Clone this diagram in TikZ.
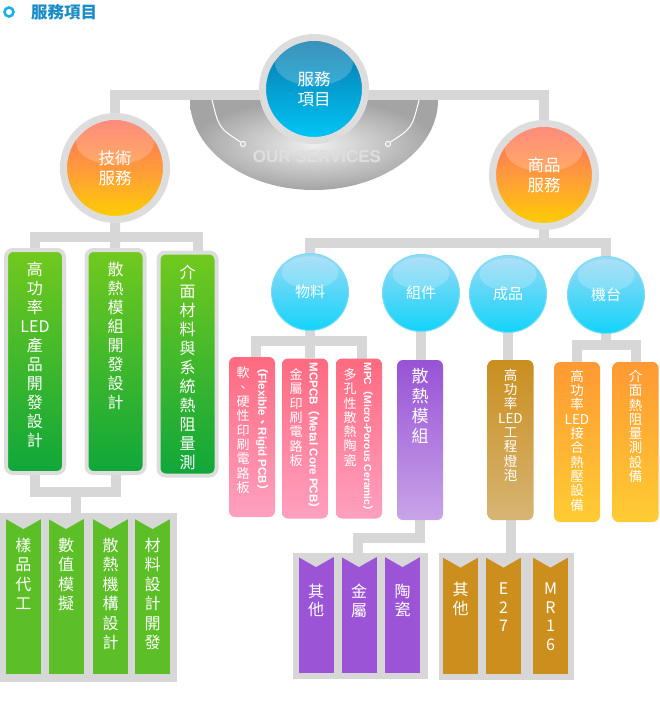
\documentclass[tikz,border=0pt]{standalone}
\usepackage{fontspec}
\setmainfont{Liberation Sans}
\newfontfamily\cjk{Noto Sans CJK TC}
\usetikzlibrary{positioning,backgrounds}

\definecolor{lnk}{HTML}{D7D7D7}
\definecolor{ringgray}{HTML}{DDDDDD}
\definecolor{titleblue}{HTML}{1A8CC8}
\definecolor{iconblue}{HTML}{1AB0E6}
\definecolor{roottop}{HTML}{0A74A8}
\definecolor{rootbot}{HTML}{00C8F8}
\definecolor{hottop}{HTML}{FF6B5E}
\definecolor{hotmid}{HTML}{FF9A3C}
\definecolor{hotbot}{HTML}{FFD000}
\definecolor{balltop}{HTML}{9AD9F5}
\definecolor{ballbot}{HTML}{12D4FA}
\definecolor{balledge}{HTML}{7CDCF8}
\definecolor{greentop}{HTML}{72C91E}
\definecolor{greenbot}{HTML}{0FA73A}
\definecolor{greenleaf}{HTML}{5CBF27}
\definecolor{pinktop}{HTML}{FF6A80}
\definecolor{pinkbot}{HTML}{FFA0C0}
\definecolor{purptop}{HTML}{9852D6}
\definecolor{purpbot}{HTML}{C8A4E8}
\definecolor{purpleaf}{HTML}{9B54D6}
\definecolor{goldtop}{HTML}{CA8E1E}
\definecolor{goldbot}{HTML}{D6B574}
\definecolor{goldleaf}{HTML}{CC8F1D}
\definecolor{ambertop}{HTML}{FF9933}
\definecolor{amberbot}{HTML}{FFCC33}
\definecolor{bowlin}{HTML}{EEEEEE}
\definecolor{bowlmid}{HTML}{C8C8C8}
\definecolor{bowlout}{HTML}{A4A4A4}
\definecolor{svcgray}{HTML}{DEDEDE}

\begin{document}
\begin{tikzpicture}[
        x=1pt, y=-1pt, % 1 ед. = 1 пиксель, ось y вниз
        conn/.style={draw=lnk, line width=10pt}, % серые полосы-соединители
        shine/.style={path picture={\fill[white, opacity=.2] ([yshift=-#1pt]path picture bounding box.north) ellipse ({1.5*#1} and {0.85*#1});}},
        ring/.style={circle, minimum size=103pt, inner sep=0pt, draw=ringgray, line width=7pt, text=white, align=center, font=\cjk\fontsize{16.5}{19.5}\selectfont, shine=26},
        ball/.style={circle, minimum size=77pt, inner sep=0pt, draw=balledge, line width=1pt, top color=balltop, bottom color=ballbot, text=white, font=\cjk\fontsize{15}{18}\selectfont, shine=19},
        box/.style={rectangle, rounded corners=6pt, inner sep=0pt, minimum width=46pt, minimum height=160pt},
        tbox/.style={box, rounded corners=7pt, draw=ringgray, line width=4pt, minimum width=58pt, minimum height=223pt, top color=greentop, bottom color=greenbot},
        banner/.style={rectangle, inner sep=0pt, minimum width=35pt, fill=#1, path picture={\fill[lnk] (path picture bounding box.north west) -- ([yshift=-10pt]path picture bounding box.north) -- (path picture bounding box.north east) -- cycle;}},
        grp/.style={rectangle, inner sep=0pt, fill=lnk}, % серые подложки групп
        vtxt/.style={align=center, inner sep=0pt, text=white, font=\cjk\fontsize{16}{19}\selectfont},
        rtxt/.style={anchor=west, rotate=-90, inner sep=0pt, text=white, font=\bfseries\fontsize{11.5}{12}\selectfont},
    ]
    \useasboundingbox (0,0) rectangle (660,724);

    % заголовок
    \node[circle, draw=iconblue, line width=2.6pt, minimum size=9pt, inner sep=0pt] (icon) at (9,12) {};
    \node[anchor=west, inner sep=0pt, text=titleblue, font=\cjk\bfseries\fontsize{16.5}{17}\selectfont] (title) at (31,12) {服務項目};

    % чаша OUR SERVICES
    \shade[inner color=bowlin, outer color=bowlout] (190,100) arc[start angle=180, end angle=0, x radius=124, y radius=90] -- cycle;
    \draw[white, line width=1pt] (212,100) .. controls (219,128) .. (240.5,142);
    \draw[white, line width=1pt] (419,100) .. controls (412,128) .. (390.5,142);
    \draw[white, fill=bowlmid, line width=.9pt] (243,144) circle (2.6pt) (388,144) circle (2.6pt);
    \node[text=svcgray, font=\bfseries\fontsize{17}{17}\selectfont] (svc) at (317,157) {OUR SERVICES};

    % верхний уровень
    \node[ring, top color=roottop, bottom color=rootbot] (root) at (314,89) {服務\\項目};
    \node[ring, top color=hottop, bottom color=hotbot, middle color=hotmid] (tech) at (115,168) {技術\\服務};
    \node[ring, top color=hottop, bottom color=hotbot, middle color=hotmid] (goods) at (544,175) {商品\\服務};

    % шары商品服務
    \node[ball] (material) at (310,292) {物料};
    \node[ball] (parts) at (421,293) {組件};
    \node[ball] (product) at (508,294) {成品};
    \node[ball] (machine) at (606,295) {機台};

    % зелёные колонки
    \node[tbox] (tbox1) at (35,361.5) {};
    \node[tbox] (tbox2) at (115.5,361.5) {};
    \node[tbox] (tbox3) at (187.5,364) {};
    \node[vtxt, below=14pt of tbox1.north] (tbox1t) {高\\功\\率\\LED\\產\\品\\開\\發\\設\\計};
    \node[vtxt, below=14pt of tbox2.north] (tbox2t) {散\\熱\\模\\組\\開\\發\\設\\計};
    \node[vtxt, below=14pt of tbox3.north] (tbox3t) {介\\面\\材\\料\\與\\系\\統\\熱\\阻\\量\\測};

    \node[grp, minimum width=177pt, minimum height=169pt] (techgroup) at (88.5,597.5) {};
    \node[banner=greenleaf, minimum height=155pt] (b1) at (23.5,596.5) {};
    \node[banner=greenleaf, minimum height=155pt] (b2) at (66,596.5) {};
    \node[banner=greenleaf, minimum height=155pt] (b3) at (110.5,596.5) {};
    \node[banner=greenleaf, minimum height=155pt] (b4) at (152.5,596.5) {};
    \node[vtxt, font=\cjk\fontsize{16}{19.5}\selectfont, below=19pt of b1.north] (b1t) {樣\\品\\代\\工};
    \node[vtxt, font=\cjk\fontsize{16}{19.5}\selectfont, below=19pt of b2.north] (b2t) {數\\值\\模\\擬};
    \node[vtxt, font=\cjk\fontsize{16}{19.5}\selectfont, below=19pt of b3.north] (b3t) {散\\熱\\機\\構\\設\\計};
    \node[vtxt, font=\cjk\fontsize{16}{19.5}\selectfont, below=19pt of b4.north] (b4t) {材\\料\\設\\計\\開\\發};

    % 物料
    \node[box, top color=pinktop, bottom color=pinkbot] (k1) at (252,437) {};
    \node[box, top color=pinktop, bottom color=pinkbot] (k2) at (305,438.5) {};
    \node[box, top color=pinktop, bottom color=pinkbot] (k3) at (359,438.5) {};
    \node[vtxt, font=\cjk\fontsize{13}{14.3}\selectfont, below=10pt of k1.north, xshift=-9pt] (k1t) {軟\\、\\硬\\性\\印\\刷\\電\\路\\板};
    \node[vtxt, font=\cjk\fontsize{13}{14.3}\selectfont, below=10pt of k2.north, xshift=-9pt] (k2t) {金\\屬\\印\\刷\\電\\路\\板};
    \node[vtxt, font=\cjk\fontsize{13}{14.3}\selectfont, below=10pt of k3.north, xshift=-9pt] (k3t) {多\\孔\\性\\散\\熱\\陶\\瓷};
    \node[rtxt] (k1en) at ([xshift=10pt, yshift=-5pt]k1.north) {{\cjk （}Flexible{\cjk 、}Rigid PCB{\cjk ）}};
    \node[rtxt] (k2en) at ([xshift=9pt, yshift=-4pt]k2.north) {MCPCB{\cjk （}Metal Core PCB{\cjk ）}};
    \node[rtxt, font=\bfseries\fontsize{10.3}{11}\selectfont] (k3en) at ([xshift=9pt, yshift=-4pt]k3.north) {MPC{\cjk （}Micro-Porous Ceramic{\cjk ）}};

    % 組件
    \node[box, top color=purptop, bottom color=purpbot] (pbox) at (420,440) {};
    \node[vtxt, font=\cjk\fontsize{17}{20}\selectfont, below=8pt of pbox.north] (pboxt) {散\\熱\\模\\組};
    \node[grp, minimum width=135pt, minimum height=126pt] (partgroup) at (360.5,616) {};
    \node[banner=purpleaf, minimum height=116pt] (p1) at (316,615) {};
    \node[banner=purpleaf, minimum height=116pt] (p2) at (359,615) {};
    \node[banner=purpleaf, minimum height=116pt] (p3) at (402.5,615) {};
    \node[vtxt, font=\cjk\fontsize{16}{18.5}\selectfont, below=27pt of p1.north] (p1t) {其\\他};
    \node[vtxt, font=\cjk\fontsize{16}{18.5}\selectfont, below=27pt of p2.north] (p2t) {金\\屬};
    \node[vtxt, font=\cjk\fontsize{16}{18.5}\selectfont, below=27pt of p3.north] (p3t) {陶\\瓷};

    % 成品
    \node[box, top color=goldtop, bottom color=goldbot] (gbox) at (510.5,440) {};
    \node[vtxt, font=\cjk\fontsize{13.5}{14.3}\selectfont, below=9pt of gbox.north] (gboxt) {高\\功\\率\\LED\\工\\程\\燈\\泡};
    \node[grp, minimum width=135pt, minimum height=127pt] (prodgroup) at (506.5,616.5) {};
    \node[banner=goldleaf, minimum height=116pt] (g1) at (460.5,615.5) {};
    \node[banner=goldleaf, minimum height=116pt] (g2) at (503.5,615.5) {};
    \node[banner=goldleaf, minimum height=116pt] (g3) at (550.5,615.5) {};
    \node[vtxt, font=\cjk\fontsize{16}{18.8}\selectfont, below=25pt of g1.north] (g1t) {其\\他};
    \node[vtxt, font=\cjk\fontsize{16}{18.8}\selectfont, below=25pt of g2.north] (g2t) {E\\2\\7};
    \node[vtxt, font=\cjk\fontsize{16}{18.8}\selectfont, below=25pt of g3.north] (g3t) {M\\R\\1\\6};

    % 機台
    \node[box, top color=ambertop, bottom color=amberbot] (o1) at (577,442) {};
    \node[box, top color=ambertop, bottom color=amberbot] (o2) at (635.5,442) {};
    \node[vtxt, font=\cjk\fontsize{13.5}{14.3}\selectfont, below=8pt of o1.north] (o1t) {高\\功\\率\\LED\\接\\合\\熱\\壓\\設\\備};
    \node[vtxt, font=\cjk\fontsize{13.5}{14.3}\selectfont, below=8pt of o2.north] (o2t) {介\\面\\熱\\阻\\量\\測\\設\\備};

    % соединители
    \begin{scope}[on background layer]
        \fill[white] (0,0) rectangle (660,724);
        \coordinate (rjoin) at (314,95);
        \draw[conn] (tech) |- (rjoin) -| (goods);
        \coordinate (tjoin) at (115,237);
        \draw[conn] (tech) -- (tbox2);
        \draw[conn] (tbox1) |- (tjoin) -| ([xshift=10pt]tbox3.center);
        \coordinate (bjoin) at (76,492);
        \draw[conn] (tbox1) |- (bjoin) -| (tbox2);
        \draw[conn] (bjoin) -- (bjoin |- techgroup.north);
        \coordinate (sjoin) at (544,243);
        \draw[conn] (material) |- (sjoin) -| (machine);
        \draw[conn] (goods) -- (sjoin);
        \coordinate (mjoin) at (310,341);
        \draw[conn] (material) -- (material |- k2.north);
        \draw[conn] ([xshift=4pt]k1.center) |- (mjoin) -| ([xshift=3pt]k3.center);
        \draw[conn] (parts) -- (parts |- pbox.north);
        \coordinate (pjoin) at (358,537.5);
        \draw[conn] (pbox) |- (pjoin) -- (pjoin |- partgroup.north);
        \draw[conn] (product) -- (product |- gbox.north);
        \draw[conn] (gbox) -- (gbox |- prodgroup.north);
        \coordinate (ejoin) at (606,345);
        \draw[conn] (machine) -- (ejoin);
        \draw[conn] (o1) |- (ejoin) -| (o2);
    \end{scope}
\end{tikzpicture}
\end{document}
